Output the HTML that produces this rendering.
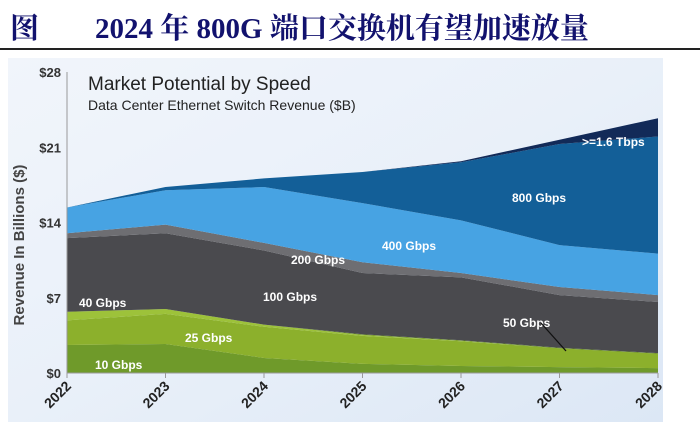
<!DOCTYPE html>
<html><head><meta charset="utf-8"><style>
body{margin:0;width:700px;height:427px;background:#fff;overflow:hidden;font-family:"Liberation Sans",sans-serif}
.hdr{position:absolute;left:10px;top:6px;font-family:"Liberation Serif","Noto Serif CJK SC",serif;font-weight:bold;font-size:29px;color:#12126e;white-space:nowrap}
</style></head><body>
<div class="hdr"><span>图</span><span style="margin-left:56px">2024 年 800G 端口交换机有望加速放量</span></div>
<div style="position:absolute;left:0;top:48px;width:700px;height:2px;background:#222"></div>
<svg id="chart" width="700" height="427" style="position:absolute;left:0;top:0">
<defs><linearGradient id="bg" x1="0" y1="0" x2="1" y2="1"><stop offset="0" stop-color="#f1f5fb"/><stop offset="0.5" stop-color="#e9f0f9"/><stop offset="1" stop-color="#dce7f5"/></linearGradient></defs>
<rect x="8" y="58" width="655" height="364" fill="url(#bg)"/>
<g id="layers"></g><g id="axes"></g>
<text x="88" y="90" font-size="19" fill="#222">Market Potential by Speed</text>
<text x="88" y="110" font-size="14" fill="#222">Data Center Ethernet Switch Revenue ($B)</text>
<text transform="translate(24,245) rotate(-90)" text-anchor="middle" font-size="15" font-weight="bold" fill="#444">Revenue In Billions ($)</text>
</svg>
<script>
const years=["2022","2023","2024","2025","2026","2027","2028"];
const seriesNames=["10 Gbps","25 Gbps","40 Gbps","50 Gbps","100 Gbps","200 Gbps","400 Gbps","800 Gbps",">=1.6 Tbps"];
const s10=[2.6,2.7,1.4,0.85,0.65,0.55,0.45];
const s25=[2.3,2.8,2.9,2.6,2.3,1.75,1.35];
const s40=[0.8,0.45,0.2,0.1,0.05,0.0,0.0];
const s50=[0.0,0.0,0.0,0.05,0.05,0.05,0.05];
const s100=[6.85,7.05,6.9,5.7,5.85,4.9,4.75];
const s200=[0.45,0.8,0.7,1.0,0.4,0.75,0.65];
const s400=[2.4,3.2,5.2,5.5,4.9,3.9,3.85];
const s800=[0.0,0.3,0.8,2.9,5.4,9.4,10.9];
const s16=[0.0,0.0,0.0,0.0,0.1,0.4,1.7];
const yTicks=[0,7,14,21,28];
const yTickLabels=["$0","$7","$14","$21","$28"];
const series=[s10,s25,s40,s50,s100,s200,s400,s800,s16];
const colors=["#6f9a2a","#8cb02c","#9dc23a","#5f7f22","#4a4a4e","#6e6e72","#47a3e3","#135f98","#122a58"];
const X0=67,X1=658,Y0=373,Y1=72,YMAX=28;
const xs=i=>X0+(X1-X0)*i/(years.length-1);
const ys=v=>Y0-(Y0-Y1)*v/YMAX;
const NS="http://www.w3.org/2000/svg";
const L=document.getElementById('layers'),A=document.getElementById('axes');
let base=years.map(()=>0);
series.forEach((s,k)=>{
  const top=base.map((b,i)=>b+s[i]);
  let d="M"+years.map((_,i)=>xs(i)+","+ys(top[i])).join("L");
  for(let i=years.length-1;i>=0;i--)d+="L"+xs(i)+","+ys(base[i]);
  const p=document.createElementNS(NS,'path');
  p.setAttribute('d',d+"Z");p.setAttribute('fill',colors[k]);
  
  
  L.appendChild(p);base=top;
});
function txt(x,y,t,opt){const e=document.createElementNS(NS,'text');e.setAttribute('x',x);e.setAttribute('y',y);e.textContent=t;for(const k in opt)e.setAttribute(k,opt[k]);return e;}
const ax=document.createElementNS(NS,'path');
ax.setAttribute('d',`M${X0},${Y1}V${Y0}H${X1}`);ax.setAttribute('stroke','#999');ax.setAttribute('fill','none');


A.appendChild(ax);
yTicks.forEach((v,i)=>{
  const t=txt(X0-6,ys(v)+5,yTickLabels[i],{'text-anchor':'end','font-size':'13','font-weight':'bold','fill':'#333'});
  
  
  A.appendChild(t);
});
years.forEach((y,i)=>{
  const t=txt(0,0,y,{'text-anchor':'end','font-size':'14','font-weight':'bold','fill':'#222','transform':`translate(${xs(i)+5},${Y0+14}) rotate(-45)`});
  
  
  A.appendChild(t);
  const tk=document.createElementNS(NS,'line');
  tk.setAttribute('x1',xs(i));tk.setAttribute('x2',xs(i));tk.setAttribute('y1',Y0);tk.setAttribute('y2',Y0+5);tk.setAttribute('stroke','#999');
  
  
  A.appendChild(tk);
});
const labels=[["10 Gbps",95,369],["25 Gbps",185,342],["40 Gbps",79,307],["100 Gbps",263,301],["200 Gbps",291,264],["400 Gbps",382,250],["800 Gbps",512,202],[">=1.6 Tbps",582,146],["50 Gbps",503,327]];
labels.forEach(l=>{
  const t=txt(l[1],l[2],l[0],{'font-size':'12','font-weight':'bold','fill':'#fff'});
  
  
  A.appendChild(t);
});
const ar=document.createElementNS(NS,'line');
ar.setAttribute('x1',541);ar.setAttribute('y1',323);ar.setAttribute('x2',566);ar.setAttribute('y2',351);ar.setAttribute('stroke','#111');ar.setAttribute('stroke-width','1.3');


A.appendChild(ar);
</script>
</body></html>
